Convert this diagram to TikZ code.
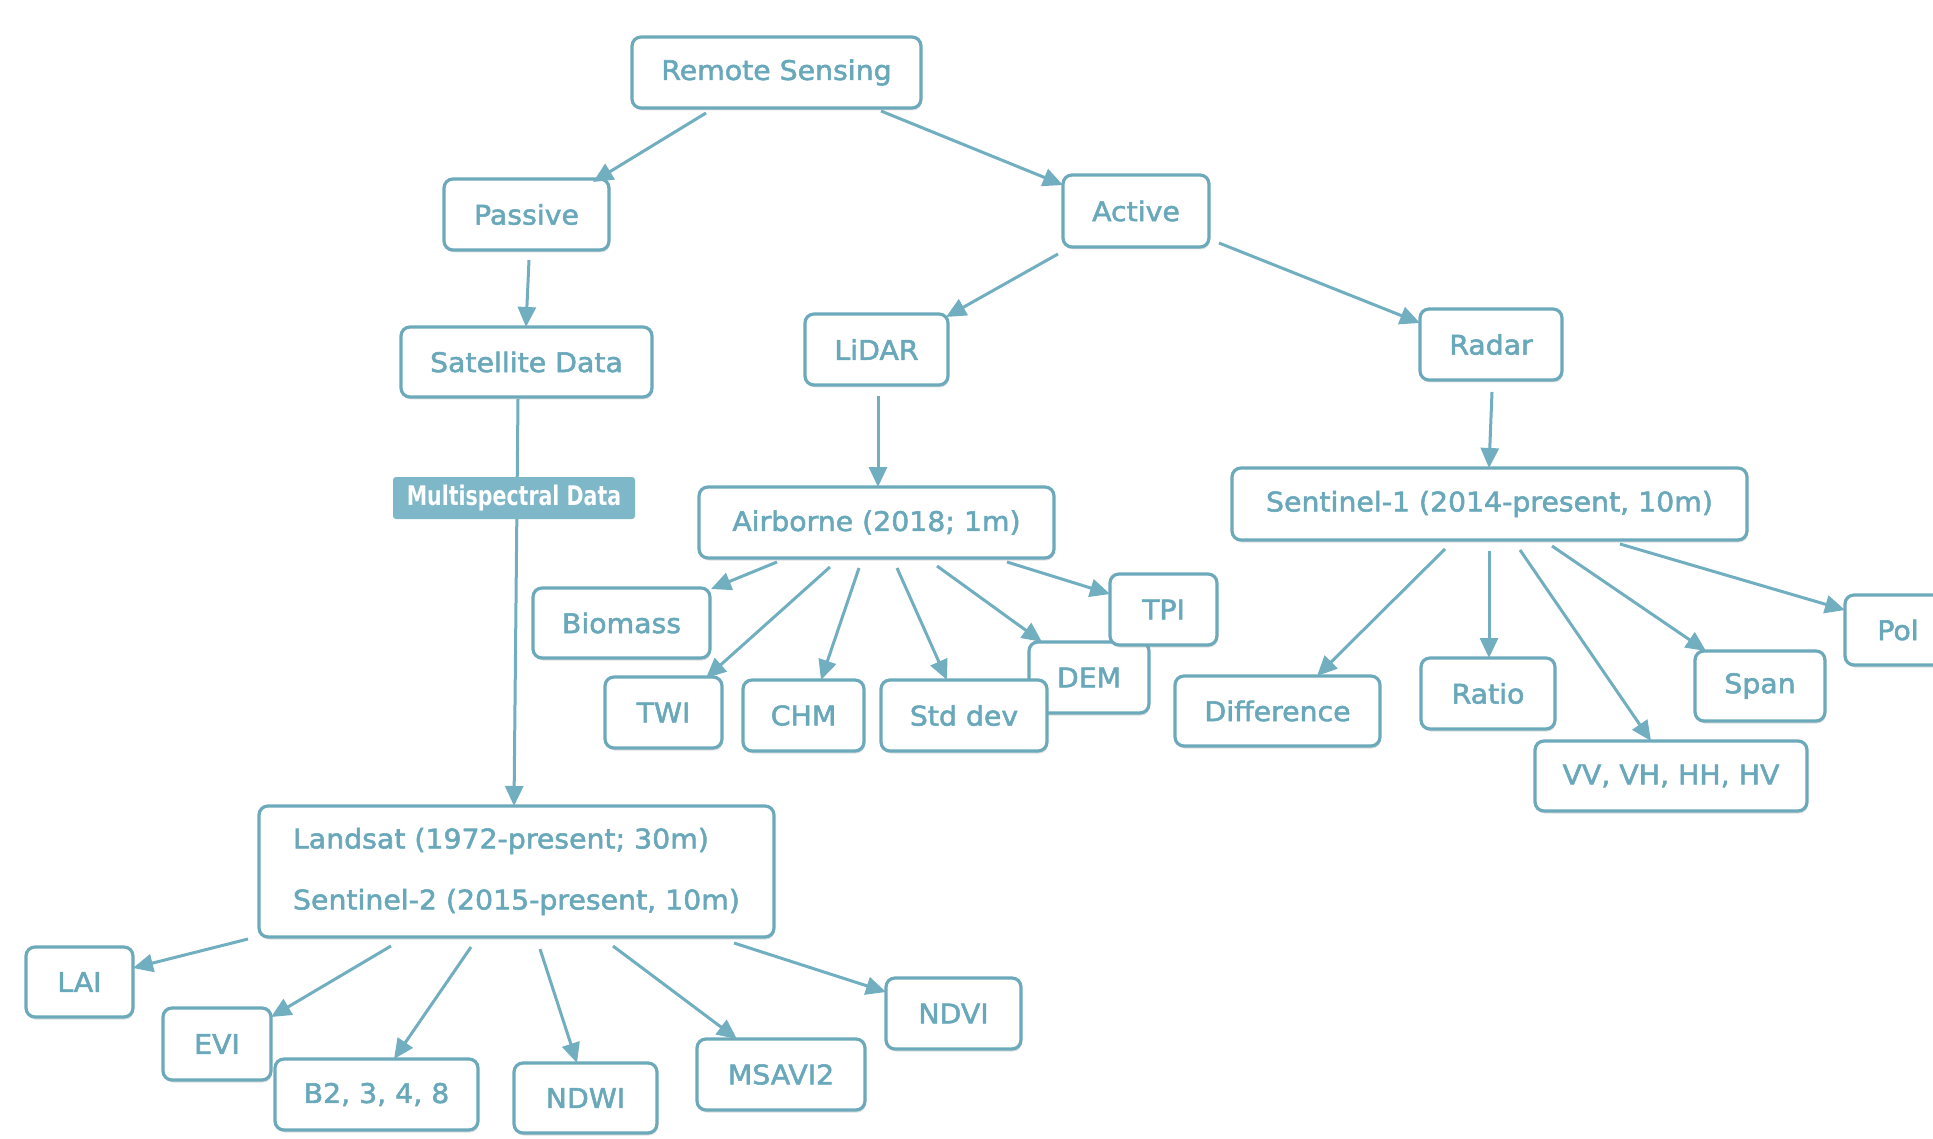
\documentclass[tikz,border=0pt]{standalone}
\usepackage{fontspec}
\setmainfont{DejaVu Sans}[FakeBold=2, FakeStretch=1.05]
\newfontfamily\msfont{DejaVu Sans}[FakeStretch=0.76]
\usetikzlibrary{calc,arrows.meta,shadows}
\definecolor{bordc}{RGB}{108,170,187}
\definecolor{txtc}{RGB}{104,168,186}
\definecolor{arrc}{RGB}{112,174,192}
\definecolor{msfill}{RGB}{125,183,200}
\tikzset{
  box/.style={draw=bordc, line width=3.2pt, rounded corners=9pt, fill=white,
    text=txtc, font=\fontsize{27}{32}\selectfont, inner sep=0pt,
    drop shadow={shadow xshift=1pt, shadow yshift=-2.5pt, opacity=0.25, fill=gray}},
  msbox/.style={fill=msfill, rounded corners=3pt, text=white, inner sep=0pt,
    font=\msfont\bfseries\fontsize{27}{30}\selectfont},
  arr/.style={draw=arrc, line width=3pt, -{Triangle[length=20pt,width=18pt]}},
}
\begin{document}
\begin{tikzpicture}[x=1pt,y=-1pt]
\useasboundingbox (0,0) rectangle (1933,1139);
\clip (0,0) rectangle (1933,1139);
% nodes
\node[box, minimum width=289pt, minimum height=71pt] (rs) at (776.5,72.5) {Remote Sensing};
\node[box, minimum width=165pt, minimum height=71pt] (passive) at (526.5,214.5) {Passive};
\node[box, minimum width=146pt, minimum height=72pt] (active) at (1136,211) {Active};
\node[box, minimum width=251pt, minimum height=70pt] (sat) at (526.5,362) {Satellite Data};
\node[box, minimum width=143pt, minimum height=71pt] (lidar) at (876.5,349.5) {LiDAR};
\node[box, minimum width=142pt, minimum height=71pt] (radar) at (1491,344.5) {Radar};
\node[box, minimum width=355pt, minimum height=71pt] (air) at (876.5,522.5) {Airborne (2018; 1m)};
\node[box, minimum width=515pt, minimum height=72pt] (s1) at (1489.5,504) {Sentinel-1 (2014-present, 10m)};
\node[box, minimum width=177pt, minimum height=70pt] (biomass) at (621.5,623) {Biomass};
\node[box, minimum width=120pt, minimum height=71pt] (dem) at (1089,677.5) {DEM};
\node[box, minimum width=107pt, minimum height=71pt] (tpi) at (1163.5,609.5) {TPI};
\node[box, minimum width=117pt, minimum height=71pt] (twi) at (663.5,712.5) {TWI};
\node[box, minimum width=121pt, minimum height=71pt] (chm) at (803.5,715.5) {CHM};
\node[box, minimum width=166pt, minimum height=71pt] (std) at (964,715.5) {Std dev};
\node[box, minimum width=205pt, minimum height=70pt] (diff) at (1277.5,711) {Difference};
\node[box, minimum width=134pt, minimum height=71pt] (ratio) at (1488,693.5) {Ratio};
\node[box, minimum width=130pt, minimum height=70pt] (span) at (1760,686) {Span};
\node[box, minimum width=106pt, minimum height=70pt] (pol) at (1898,630) {Pol};
\node[box, minimum width=272pt, minimum height=70pt] (vv) at (1671,776) {VV, VH, HH, HV};
\node[box, minimum width=515pt, minimum height=131pt, align=left] (landsat) at (516.5,871.5)
  {Landsat (1972-present; 30m)\\[29pt]Sentinel-2 (2015-present, 10m)};
\node[box, minimum width=107pt, minimum height=70pt] (lai) at (79.5,982) {LAI};
\node[box, minimum width=108pt, minimum height=72pt] (evi) at (217,1044) {EVI};
\node[box, minimum width=203pt, minimum height=71pt] (b2) at (376.5,1094.5) {B2, 3, 4, 8};
\node[box, minimum width=143pt, minimum height=70pt] (ndwi) at (585.5,1098) {NDWI};
\node[box, minimum width=168pt, minimum height=71pt] (msavi) at (781,1074.5) {MSAVI2};
\node[box, minimum width=135pt, minimum height=71pt] (ndvi) at (953.5,1013.5) {NDVI};
% connectors
\draw[arr] ($(rs)+(-70.5,40.5)$) -- ($(passive)+(66.5,-32.5)$);
\draw[arr] ($(rs)+(104.5,38.5)$) -- ($(active)+(-73,-26)$);
\draw[arr] ($(passive)+(2.5,45.5)$) -- ($(sat)+(-0.5,-35)$);
\draw[arr] ($(active)+(-78,43)$) -- ($(lidar)+(69.5,-32.5)$);
\draw[arr] ($(active)+(83,32)$) -- ($(radar)+(-71,-21.5)$);
\draw[arr] ($(lidar)+(1.5,46.5)$) -- ($(air)+(1.5,-35.5)$);
\draw[arr] ($(radar)+(1,47.5)$) -- ($(s1)+(-0.5,-36)$);
\draw[arr] ($(sat)+(-8.5,37)$) -- ($(landsat)+(-2.5,-65.5)$);
\node[msbox, minimum width=242pt, minimum height=42pt] (ms) at (514,498) {Multispectral Data};
\draw[arr] ($(air)+(-99.5,39.5)$) -- ($(biomass)+(89.5,-34)$);
\draw[arr] ($(air)+(-46.5,44.5)$) -- ($(twi)+(42.5,-34.5)$);
\draw[arr] ($(air)+(-17.5,45.5)$) -- ($(chm)+(17.5,-35.5)$);
\draw[arr] ($(air)+(20.5,45.5)$) -- ($(std)+(-17,-35.5)$);
\draw[arr] ($(air)+(60.5,43.5)$) -- ($(dem)+(-47,-35.5)$);
\draw[arr] ($(air)+(130.5,39.5)$) -- ($(tpi)+(-53.5,-15.5)$);
\draw[arr] ($(s1)+(-44.5,45)$) -- ($(diff)+(39.5,-35)$);
\draw[arr] ($(s1)+(-0.5,47)$) -- ($(ratio)+(1,-35.5)$);
\draw[arr] ($(s1)+(30.5,46)$) -- ($(vv)+(-20,-35)$);
\draw[arr] ($(s1)+(62.5,42)$) -- ($(span)+(-54,-35)$);
\draw[arr] ($(s1)+(130.5,40)$) -- ($(pol)+(-53,-20)$);
\draw[arr] ($(landsat)+(-268.5,67.5)$) -- ($(lai)+(53.5,-14)$);
\draw[arr] ($(landsat)+(-125.5,74.5)$) -- ($(evi)+(54,-27)$);
\draw[arr] ($(landsat)+(-45.5,75.5)$) -- ($(b2)+(17.5,-35.5)$);
\draw[arr] ($(landsat)+(23.5,77.5)$) -- ($(ndwi)+(-8.5,-35)$);
\draw[arr] ($(landsat)+(96.5,74.5)$) -- ($(msavi)+(-44,-35.5)$);
\draw[arr] ($(landsat)+(217.5,71.5)$) -- ($(ndvi)+(-67.5,-21.5)$);
\end{tikzpicture}
\end{document}
